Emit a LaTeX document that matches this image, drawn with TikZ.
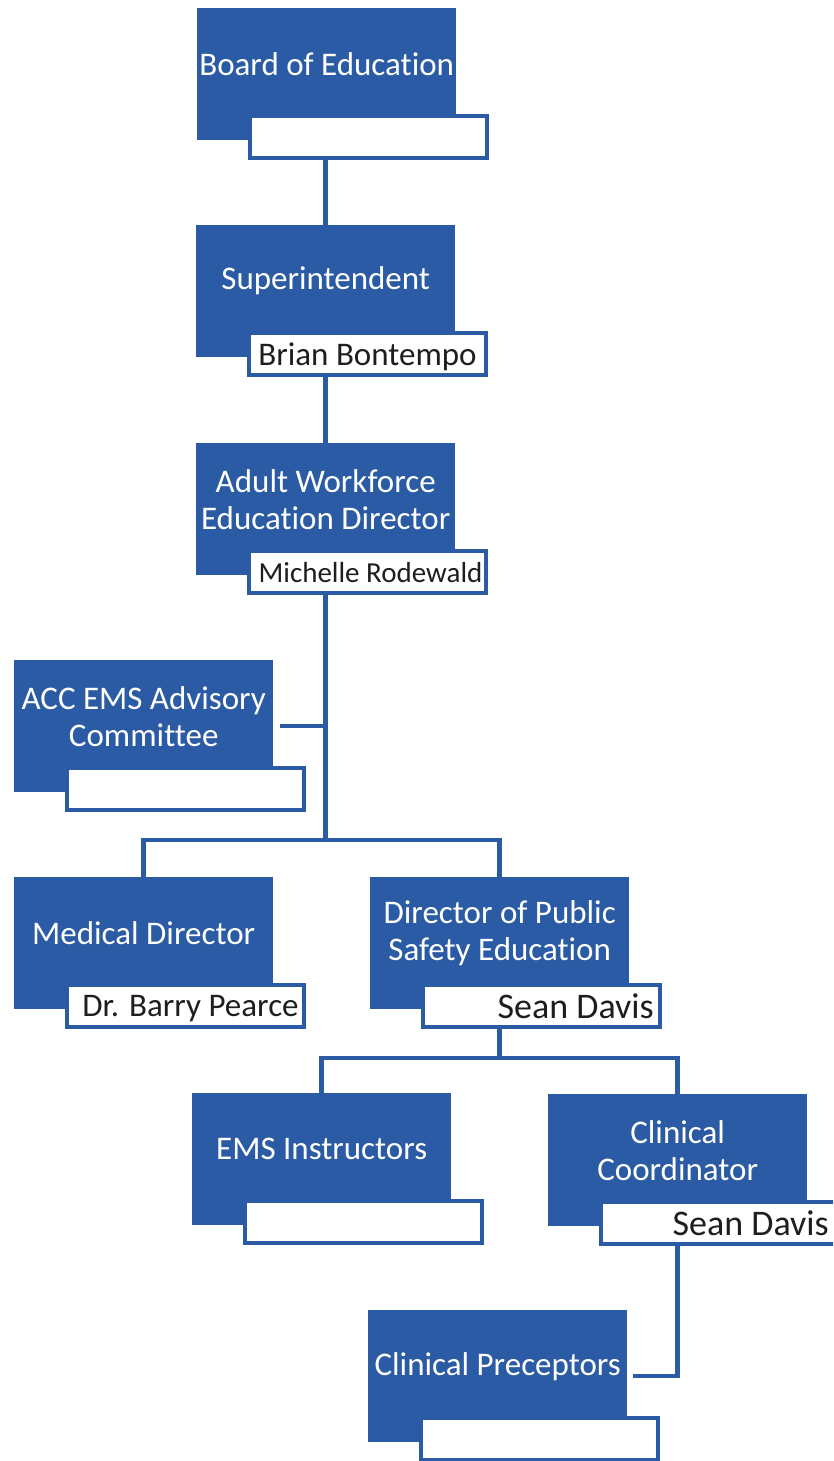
\documentclass[tikz,border=0pt]{standalone}
\usepackage{fontspec}
\setmainfont{Carlito}[Ligatures={NoCommon,NoRare,NoContextual}]
\definecolor{orgblue}{RGB}{42,91,164}
\definecolor{namegray}{RGB}{30,30,30}
\begin{document}
\begin{tikzpicture}
		[x=1pt,y=-1pt,
		post/.style={rectangle,fill=orgblue,minimum width=259pt,minimum height=132pt,inner sep=0pt,anchor=north west},
		posttext/.style={text=white,align=center,inner sep=0pt,font=\fontsize{33}{37}\selectfont},
		namebox/.style={rectangle,draw=orgblue,line width=4pt,fill=white,minimum width=237pt,minimum height=42pt,inner sep=0pt,anchor=north west},
		nametext/.style={text=namegray,inner sep=0pt,text depth=0pt,font=\fontsize{#1}{#1}\selectfont},
		link/.style={draw=orgblue,line width=4.5pt}]
		\useasboundingbox (0,0) rectangle (833,1461);
		\clip (0,0) rectangle (833,1461);
		\fill[white] (0,0) rectangle (833,1461);
		\foreach \n/\x/\y/\txt in {boe/197/8/{Board of Education},
			supt/196/225/{Superintendent},
			awd/196/443/{Adult Workforce\\Education Director},
			acc/14/660/{ACC EMS Advisory\\Committee},
			med/14/877/{Medical Director},
			dps/370/877/{Director of Public\\Safety Education},
			emsi/192/1093/{EMS Instructors},
			cc/548/1094/{Clinical\\Coordinator},
			prec/368/1310/{Clinical Preceptors}}
		{
			\node[post,name=\n] at (\x,\y) {};
			\node[posttext] at ([yshift=10pt]\n.center) {\txt};
			\node[namebox,name=\n-n] at ([xshift=51pt,yshift=-106pt]\n.north west) {};
		}
		% names
		\node[nametext=33] at (supt-n.center) {Brian Bontempo};
		\node[nametext=29] at ([xshift=3pt]awd-n.center) {Michelle Rodewald};
		\node[nametext=33] at ([xshift=5pt]med-n.center) {Dr. Barry Pearce};
		\node[nametext=36,anchor=east] at ([xshift=-8pt]dps-n.east) {Sean Davis};
		\node[nametext=36,anchor=east] at ([xshift=-11pt]cc-n.east) {Sean Davis};
		% connectors
		\path (med.north) ++(0,-37) coordinate (medtop);
		\coordinate (fork) at (awd.center |- medtop);
		\path (emsi.north) ++(0,-35) coordinate (emsitop);
		\coordinate (fork2) at (dps.center |- emsitop);
		\draw[link] (supt.north |- boe-n.south) -- (supt.north);
		\draw[link] (supt.center |- supt-n.south) -- (awd.north);
		\draw[link] (awd.center |- awd-n.south) -- (fork);
		\draw[link] ([xshift=7pt]acc.east) -- (acc.east -| fork);
		\draw[link] (med.north) |- (fork) -| (dps.north);
		\draw[link] (dps.center |- dps-n.south) -- (fork2);
		\draw[link] (emsi.north) |- (fork2) -| (cc.north);
		\draw[link] (cc.center |- cc-n.south) |- ([xshift=6pt]prec.east);
	\end{tikzpicture}
\end{document}
